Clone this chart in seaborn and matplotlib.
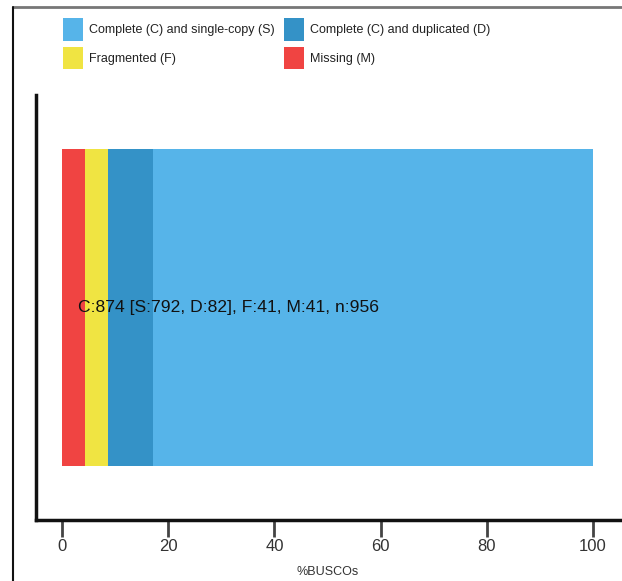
import matplotlib
matplotlib.use("Agg")
import matplotlib.pyplot as plt
from matplotlib.lines import Line2D
from matplotlib.patches import Patch
import seaborn as sns
import pandas as pd

# BUSCO counts
categories = ["Complete (C) and single-copy (S)", "Complete (C) and duplicated (D)",
              "Fragmented (F)", "Missing (M)"]
counts = [792, 82, 41, 41]
total = 956
colors = ["#56B4E9", "#3492C7", "#F0E442", "#F04442"]
x_ticks = [0, 20, 40, 60, 80, 100]

sns.set_style("white")
plt.rcParams["font.family"] = ["Liberation Sans", "DejaVu Sans"]

fig = plt.figure(figsize=(6.22, 5.81), dpi=100)
ax = fig.add_axes([36 / 622, 61 / 581, 584 / 622, 425 / 581])

pct = [c / total * 100 for c in counts]
s_pct, d_pct, f_pct, m_pct = pct
# cumulative right edges, drawn widest first so narrower layers sit on top
layers = [
    (s_pct + d_pct + f_pct + m_pct, colors[0]),
    (d_pct + f_pct + m_pct, colors[1]),
    (f_pct + m_pct, colors[2]),
    (m_pct, colors[3]),
]
for val, col in layers:
    df = pd.DataFrame({"pct": [val], "run": ["run"]})
    sns.barplot(data=df, x="pct", y="run", orient="h", color=col,
                width=0.746, saturation=1, ax=ax, linewidth=0)

ax.set_xlim(-4.9, 105.1)
ax.set_ylim(0.5, -0.5)
ax.set_yticks([])
ax.set_ylabel("")
ax.set_xticks(x_ticks)
ax.set_xticklabels([str(t) for t in x_ticks], fontsize=12, color="#333333")
ax.tick_params(axis="x", direction="out", length=12, width=2, color="#444444",
               pad=2, bottom=True)
ax.set_xlabel("%BUSCOs", fontsize=9, color="#333333", labelpad=8)
for side in ["top", "right"]:
    ax.spines[side].set_visible(False)
for side in ["left", "bottom"]:
    ax.spines[side].set_linewidth(2.5)
    ax.spines[side].set_color("#111111")

label = f"C:{counts[0] + counts[1]} [S:{counts[0]}, D:{counts[1]}], F:{counts[2]}, M:{counts[3]}, n:{total}"
ax.text(3.0, 0.0, label, ha="left", va="center", fontsize=12.6, color="#111111")

handles = [Patch(facecolor=colors[i], edgecolor="none") for i in range(4)]
# two columns: single-copy / fragmented, duplicated / missing
order = [0, 2, 1, 3]
fig.legend([handles[i] for i in order], [categories[i] for i in order],
           ncol=2, loc="upper left", bbox_to_anchor=(63 / 622, 1 - 18 / 581),
           frameon=False, fontsize=9, handlelength=1.6, handleheight=2.4,
           handletextpad=0.45, columnspacing=0.8, labelspacing=0.5,
           borderpad=0, borderaxespad=0, labelcolor="#222222")

# page frame lines
fig.add_artist(Line2D([13 / 622, 1], [1 - 7 / 581, 1 - 7 / 581], color="#777777",
                      lw=2, transform=fig.transFigure))
fig.add_artist(Line2D([13 / 622, 13 / 622], [0, 1 - 7 / 581], color="#111111",
                      lw=1.5, transform=fig.transFigure))

fig.savefig("out.png", dpi=100)
